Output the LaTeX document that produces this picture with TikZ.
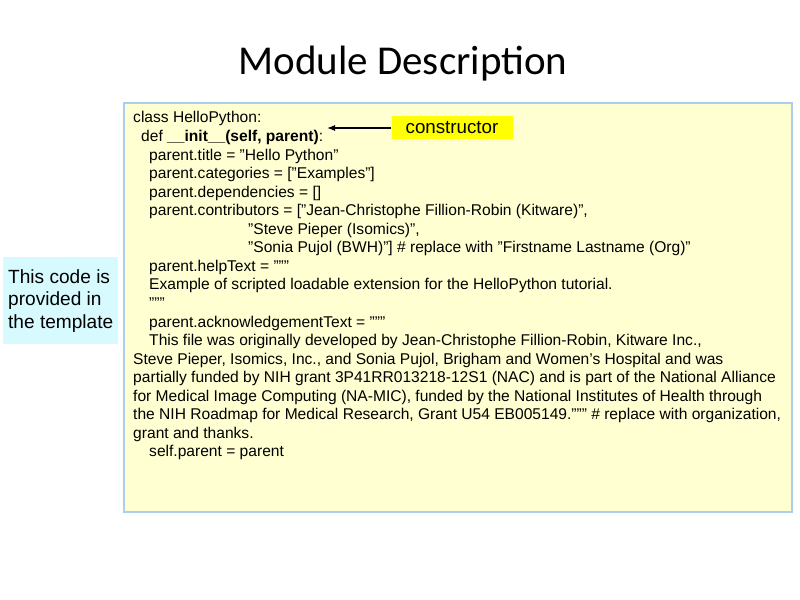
\documentclass[tikz,border=0pt]{standalone}
\usepackage{fontspec}
\setmainfont{Liberation Sans}
\newfontfamily\titlefont{Carlito}
\usetikzlibrary{arrows.meta}
\definecolor{codefill}{RGB}{255,255,210}
\definecolor{codeedge}{RGB}{170,205,240}
\definecolor{notefill}{RGB}{215,250,255}
\definecolor{tagfill}{RGB}{255,255,0}
\newcommand\q{\symbol{34}}
\tikzset{
  codeline/.style={anchor=base west, inner sep=0pt, font=\fontsize{13.3}{15}\selectfont},
  notebox/.style={fill=notefill, align=left, inner sep=4pt, font=\fontsize{16.3}{19.5}\selectfont},
}
\begin{document}
\begin{tikzpicture}[x=0.03cm, y=-0.03cm]
  \useasboundingbox (0,0) rectangle (800,600);
  % title
  \node[font=\titlefont\fontsize{35}{38}\selectfont] (title) at (403,64) {Module Description};
  % code panel
  \draw[codeedge, line width=2pt, fill=codefill] (124,103) rectangle (792,512);
  \def\lh{18.55}
  \foreach \i/\x/\t in {
    0/133/{class HelloPython:},
    1/141/{def \textbf{\_\_init\_\_(self, parent)}:},
    2/149/{parent.title = \q Hello Python\q},
    3/149/{parent.categories = [\q Examples\q]},
    4/149/{parent.dependencies = []},
    5/149/{parent.contributors = [\q Jean-Christophe Fillion-Robin (Kitware)\q,},
    6/248/{\q Steve Pieper (Isomics)\q,},
    7/248/{\q Sonia Pujol (BWH)\q] \# replace with \q Firstname Lastname (Org)\q},
    8/149/{parent.helpText = \q\q\q},
    9/149/{Example of scripted loadable extension for the HelloPython tutorial.},
    10/149/{\q\q\q},
    11/149/{parent.acknowledgementText = \q\q\q},
    12/149/{This file was originally developed by Jean-Christophe Fillion-Robin, Kitware Inc.,},
    13/133/{Steve Pieper, Isomics, Inc., and Sonia Pujol, Brigham and Women's Hospital and was},
    14/133/{partially funded by NIH grant 3P41RR013218-12S1 (NAC) and is part of the National Alliance},
    15/133/{for Medical Image Computing (NA-MIC), funded by the National Institutes of Health through},
    16/133/{the NIH Roadmap for Medical Research, Grant U54 EB005149.\q\q\q\ \# replace with organization,},
    17/133/{grant and thanks.},
    18/149/{self.parent = parent}}
    \node[codeline] (line\i) at (\x,{123+\i*\lh}) {\t};
  % annotations
  \node[fill=tagfill, minimum width=121*0.03cm, minimum height=23*0.03cm, font=\fontsize{16}{18}\selectfont] (ctor) at (452,128) {constructor};
  \coordinate (ctorend) at (327,128);
  \draw[-{Latex[length=7pt]}, line width=1pt] (ctor.west) -- (ctorend);
  \node[notebox, anchor=west, minimum width=115*0.03cm, minimum height=87*0.03cm] (note) at (3,301) {This code is\\provided in\\the template};
\end{tikzpicture}
\end{document}
